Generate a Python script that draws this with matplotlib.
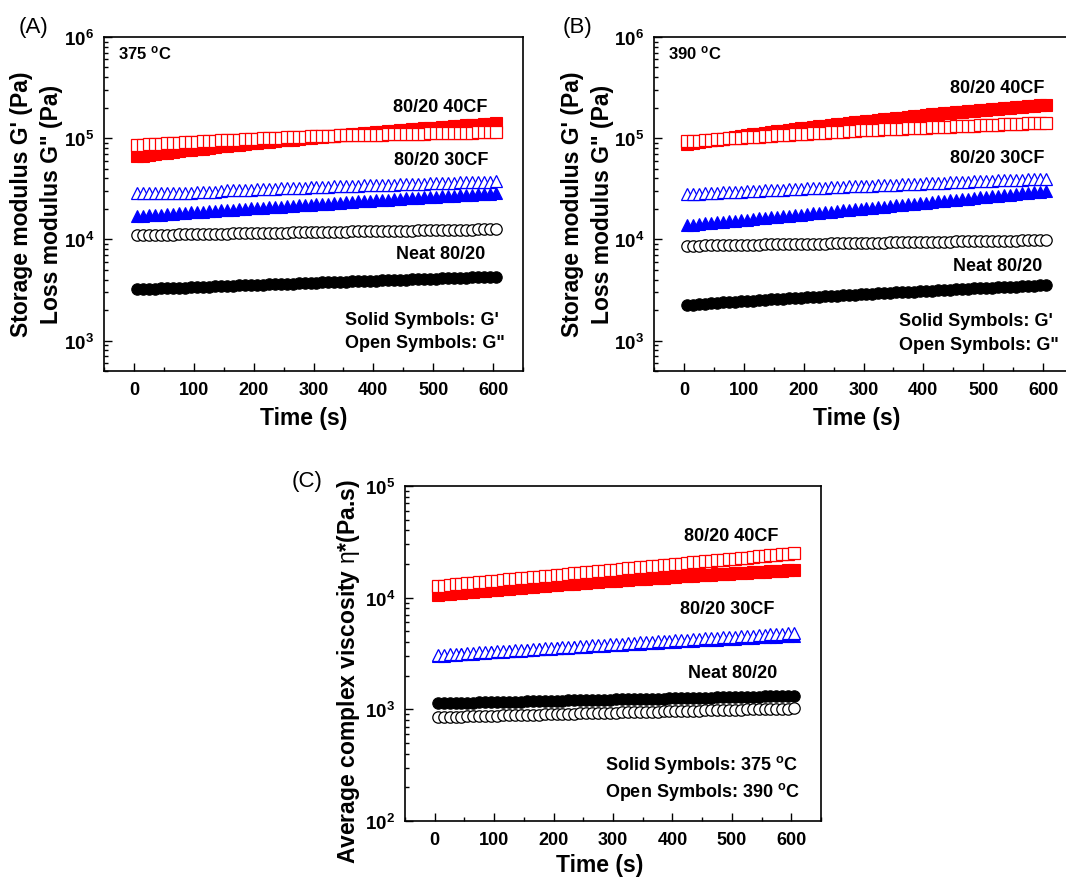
import numpy as np
import matplotlib.pyplot as plt
from matplotlib.ticker import FuncFormatter, LogLocator, MultipleLocator

plt.rcParams['font.family'] = ['Liberation Sans', 'DejaVu Sans']
plt.rcParams['mathtext.fontset'] = 'custom'
plt.rcParams['mathtext.rm'] = 'Liberation Sans'
plt.rcParams['mathtext.bf'] = 'Liberation Sans:bold'
plt.rcParams['mathtext.default'] = 'bf'

# time axis (s), one point every 10 s
time = np.arange(5, 606, 10)

# ---- panel A, 375 C (kPa) ----
a_gp_40 = [66, 67, 68, 70, 71, 72, 73, 74, 76, 77, 78, 79, 80, 82, 83, 84, 85, 86, 88, 89,
           90, 91, 92, 94, 95, 96, 97, 98, 100, 101, 102, 103, 105, 106, 107, 108, 110, 111,
           112, 113, 115, 116, 117, 118, 120, 121, 122, 124, 125, 126, 127, 129, 130, 131,
           132, 134, 135, 136, 137, 139, 140]
a_gpp_40 = [86.0, 86.6, 87.3, 87.9, 88.5, 89.2, 89.8, 90.4, 91.1, 91.7, 92.3, 93.0, 93.6, 94.2,
            94.9, 95.5, 96.1, 96.8, 97.4, 98.0, 98.7, 99.3, 99.9, 100.6, 101.2, 101.8, 102.5,
            103.1, 103.7, 104.4, 105.0, 105.3, 105.7, 106.0, 106.3, 106.7, 107.0, 107.3, 107.7,
            108.0, 108.3, 108.7, 109.0, 109.3, 109.7, 110.0, 110.3, 110.7, 111.0, 111.3, 111.7,
            112.0, 112.3, 112.7, 113.0, 113.3, 113.7, 114.0, 114.3, 114.7, 115.0]
a_gp_30 = [16.9, 17.1, 17.3, 17.4, 17.6, 17.8, 17.9, 18.1, 18.3, 18.5, 18.7, 18.8, 19.0, 19.2,
           19.4, 19.5, 19.7, 19.9, 20.1, 20.3, 20.4, 20.6, 20.8, 21.0, 21.1, 21.3, 21.5, 21.7,
           21.8, 22.0, 22.2, 22.4, 22.6, 22.8, 23.0, 23.2, 23.5, 23.7, 23.9, 24.1, 24.3, 24.5,
           24.7, 24.9, 25.1, 25.4, 25.6, 25.8, 26.0, 26.2, 26.4, 26.6, 26.8, 27.0, 27.2, 27.5,
           27.7, 27.9, 28.1, 28.3, 28.5]
a_gpp_30 = [28.5, 28.6, 28.6, 28.7, 28.7, 28.8, 28.8, 28.9, 28.9, 29.0, 29.1, 29.1, 29.2, 29.3,
            30.3, 30.5, 30.6, 30.8, 30.9, 31.1, 31.2, 31.4, 31.5, 31.7, 31.9, 32.0, 32.2, 32.3,
            32.5, 32.7, 32.8, 33.0, 33.1, 33.3, 33.4, 33.6, 33.8, 33.9, 34.1, 34.2, 34.4, 34.5,
            34.7, 34.8, 35.0, 35.2, 35.3, 35.5, 35.6, 35.8, 35.9, 36.1, 36.3, 36.4, 36.6, 36.7,
            36.9, 37.0, 37.2, 37.3, 37.5]
a_gp_neat = [3.20, 3.22, 3.24, 3.25, 3.27, 3.29, 3.31, 3.32, 3.34, 3.36, 3.38, 3.40, 3.41, 3.43,
             3.45, 3.47, 3.49, 3.50, 3.52, 3.54, 3.56, 3.57, 3.59, 3.61, 3.63, 3.65, 3.66, 3.68,
             3.70, 3.72, 3.73, 3.75, 3.77, 3.79, 3.81, 3.82, 3.84, 3.86, 3.88, 3.89, 3.91, 3.93,
             3.95, 3.97, 3.98, 4.00, 4.02, 4.04, 4.05, 4.07, 4.09, 4.11, 4.13, 4.14, 4.16, 4.18,
             4.20, 4.21, 4.23, 4.25, 4.27]
a_gpp_neat = [11.00, 11.03, 11.05, 11.08, 11.11, 11.13, 11.16, 11.19, 11.21, 11.24, 11.27, 11.29,
              11.32, 11.35, 11.37, 11.40, 11.43, 11.45, 11.48, 11.51, 11.53, 11.56, 11.59, 11.61,
              11.64, 11.67, 11.69, 11.72, 11.75, 11.77, 11.80, 11.83, 11.85, 11.88, 11.91, 11.93,
              11.96, 11.99, 12.01, 12.04, 12.07, 12.09, 12.12, 12.15, 12.17, 12.20, 12.23, 12.25,
              12.28, 12.31, 12.33, 12.36, 12.39, 12.41, 12.44, 12.47, 12.49, 12.52, 12.55, 12.57,
              12.60]

# ---- panel B, 390 C (kPa) ----
b_gp_40 = [87, 89, 91, 93, 95, 97, 99, 101, 103, 105, 107, 109, 111, 113, 115, 117, 119, 121,
           123, 125, 127, 129, 131, 133, 135, 137, 139, 141, 143, 145, 147, 149, 152, 154, 156,
           158, 160, 163, 165, 167, 169, 172, 174, 176, 178, 180, 183, 185, 187, 189, 192, 194,
           196, 198, 201, 203, 205, 207, 210, 212, 214]
b_gpp_40 = [93.0, 93.9, 94.8, 95.7, 96.6, 97.5, 98.4, 99.3, 100.2, 101.1, 102.0, 102.9, 103.8,
            104.7, 105.6, 106.5, 107.4, 108.3, 109.2, 110.1, 111.0, 111.9, 112.8, 113.7, 114.6,
            115.5, 116.4, 117.3, 118.2, 119.1, 120.0, 120.7, 121.5, 122.2, 122.9, 123.7, 124.4,
            125.1, 125.9, 126.6, 127.3, 128.1, 128.8, 129.5, 130.3, 131.0, 131.7, 132.5, 133.2,
            133.9, 134.7, 135.4, 136.1, 136.9, 137.6, 138.3, 139.1, 139.8, 140.5, 141.3, 142.0]
b_gp_30 = [13.8, 14.0, 14.2, 14.4, 14.5, 14.7, 14.9, 15.1, 15.3, 15.5, 15.7, 15.9, 16.1, 16.3,
           16.5, 16.8, 17.0, 17.2, 17.4, 17.6, 17.9, 18.1, 18.3, 18.6, 18.8, 19.1, 19.3, 19.6,
           19.8, 20.1, 20.3, 20.6, 20.9, 21.1, 21.4, 21.7, 22.0, 22.3, 22.6, 22.9, 23.1, 23.5,
           23.8, 24.1, 24.4, 24.7, 25.0, 25.3, 25.7, 26.0, 26.3, 26.7, 27.0, 27.4, 27.7, 28.1,
           28.5, 28.8, 29.2, 29.6, 30.0]
b_gpp_30 = [27.9, 28.1, 28.3, 28.5, 28.7, 28.9, 29.1, 29.3, 29.5, 29.7, 29.9, 30.1, 30.3, 30.5,
            30.7, 30.9, 31.1, 31.3, 31.5, 31.7, 31.9, 32.1, 32.3, 32.5, 32.7, 32.9, 33.1, 33.3,
            33.5, 33.7, 33.8, 34.0, 34.2, 34.4, 34.6, 34.8, 35.0, 35.2, 35.4, 35.6, 35.8, 36.0,
            36.2, 36.4, 36.6, 36.8, 37.0, 37.2, 37.4, 37.6, 37.8, 38.0, 38.2, 38.4, 38.6, 38.8,
            39.0, 39.2, 39.4, 39.6, 39.8]
b_gp_neat = [2.25, 2.27, 2.29, 2.31, 2.33, 2.36, 2.38, 2.40, 2.42, 2.44, 2.46, 2.48, 2.50, 2.53,
             2.55, 2.57, 2.59, 2.61, 2.63, 2.65, 2.67, 2.69, 2.72, 2.74, 2.76, 2.78, 2.80, 2.82,
             2.84, 2.86, 2.89, 2.91, 2.93, 2.95, 2.97, 2.99, 3.01, 3.03, 3.05, 3.08, 3.10, 3.12,
             3.14, 3.16, 3.18, 3.20, 3.22, 3.24, 3.27, 3.29, 3.31, 3.33, 3.35, 3.37, 3.39, 3.42,
             3.44, 3.46, 3.48, 3.50, 3.52]
b_gpp_neat = [8.65, 8.67, 8.69, 8.71, 8.73, 8.75, 8.77, 8.79, 8.81, 8.83, 8.85, 8.87, 8.89, 8.91,
              8.93, 8.95, 8.97, 8.99, 9.01, 9.03, 9.05, 9.06, 9.08, 9.10, 9.12, 9.14, 9.16, 9.18,
              9.20, 9.22, 9.24, 9.26, 9.28, 9.30, 9.32, 9.34, 9.36, 9.38, 9.40, 9.42, 9.44, 9.46,
              9.48, 9.50, 9.52, 9.54, 9.56, 9.58, 9.60, 9.62, 9.64, 9.66, 9.68, 9.70, 9.72, 9.74,
              9.76, 9.78, 9.80, 9.82, 9.84]

# ---- panel C, complex viscosity (kPa.s) ----
c_375_40 = [10.60, 10.72, 10.84, 10.96, 11.08, 11.20, 11.32, 11.44, 11.56, 11.68, 11.80, 11.92,
            12.04, 12.16, 12.28, 12.40, 12.52, 12.64, 12.76, 12.88, 13.00, 13.12, 13.24, 13.36,
            13.48, 13.60, 13.72, 13.84, 13.96, 14.08, 14.20, 14.32, 14.43, 14.55, 14.67, 14.78,
            14.90, 15.02, 15.13, 15.25, 15.37, 15.48, 15.60, 15.72, 15.83, 15.95, 16.07, 16.18,
            16.30, 16.42, 16.53, 16.65, 16.77, 16.88, 17.00, 17.12, 17.23, 17.35, 17.47, 17.58,
            17.70]
c_390_40 = [12.70, 12.85, 12.99, 13.14, 13.29, 13.44, 13.59, 13.75, 13.90, 14.06, 14.22, 14.38,
            14.55, 14.71, 14.88, 15.05, 15.22, 15.39, 15.57, 15.75, 15.93, 16.11, 16.29, 16.48,
            16.67, 16.86, 17.05, 17.24, 17.44, 17.64, 17.84, 18.04, 18.25, 18.46, 18.67, 18.88,
            19.10, 19.31, 19.53, 19.76, 19.98, 20.21, 20.44, 20.67, 20.91, 21.15, 21.39, 21.63,
            21.88, 22.13, 22.38, 22.64, 22.89, 23.16, 23.42, 23.69, 23.96, 24.23, 24.51, 24.79,
            25.10]
c_375_30 = [3.00, 3.03, 3.05, 3.08, 3.10, 3.13, 3.16, 3.18, 3.21, 3.23, 3.26, 3.28, 3.31, 3.34,
            3.36, 3.39, 3.41, 3.44, 3.47, 3.49, 3.52, 3.54, 3.57, 3.59, 3.62, 3.65, 3.67, 3.70,
            3.72, 3.75, 3.78, 3.80, 3.83, 3.85, 3.88, 3.90, 3.93, 3.96, 3.98, 4.01, 4.03, 4.06,
            4.09, 4.11, 4.14, 4.16, 4.19, 4.21, 4.24, 4.27, 4.29, 4.32, 4.34, 4.37, 4.40, 4.42,
            4.45, 4.47, 4.50, 4.52, 4.55]
c_390_30 = [3.07, 3.09, 3.12, 3.14, 3.16, 3.19, 3.21, 3.24, 3.26, 3.28, 3.31, 3.33, 3.36, 3.38,
            3.41, 3.43, 3.46, 3.49, 3.51, 3.54, 3.57, 3.59, 3.62, 3.65, 3.67, 3.70, 3.73, 3.76,
            3.79, 3.82, 3.85, 3.88, 3.91, 3.94, 3.97, 4.00, 4.03, 4.06, 4.09, 4.12, 4.15, 4.18,
            4.21, 4.25, 4.28, 4.31, 4.34, 4.38, 4.41, 4.44, 4.48, 4.51, 4.55, 4.58, 4.62, 4.65,
            4.69, 4.72, 4.76, 4.79, 4.83]
c_375_neat = [1.130, 1.133, 1.136, 1.140, 1.143, 1.146, 1.149, 1.152, 1.155, 1.159, 1.162, 1.165,
              1.168, 1.171, 1.174, 1.178, 1.181, 1.184, 1.187, 1.190, 1.193, 1.197, 1.200, 1.203,
              1.206, 1.209, 1.212, 1.216, 1.219, 1.222, 1.225, 1.228, 1.231, 1.235, 1.238, 1.241,
              1.244, 1.247, 1.250, 1.254, 1.257, 1.260, 1.263, 1.266, 1.269, 1.273, 1.276, 1.279,
              1.282, 1.285, 1.288, 1.292, 1.295, 1.298, 1.301, 1.304, 1.307, 1.311, 1.314, 1.317,
              1.320]
c_390_neat = [0.850, 0.853, 0.856, 0.859, 0.861, 0.864, 0.867, 0.870, 0.873, 0.876, 0.878, 0.881,
              0.884, 0.887, 0.890, 0.893, 0.895, 0.898, 0.901, 0.904, 0.907, 0.910, 0.912, 0.915,
              0.918, 0.921, 0.924, 0.926, 0.929, 0.932, 0.935, 0.938, 0.941, 0.943, 0.946, 0.949,
              0.952, 0.955, 0.958, 0.960, 0.963, 0.966, 0.969, 0.972, 0.975, 0.977, 0.980, 0.983,
              0.986, 0.989, 0.992, 0.994, 0.997, 1.000, 1.003, 1.006, 1.009, 1.011, 1.014, 1.017,
              1.020]

W, H = 1066, 878
fig = plt.figure(figsize=(W / 100, H / 100), dpi=100)


def px(x, y):
    return x / W, 1 - y / H


def style(ax, ylim):
    ax.set_yscale('log')
    ax.set_xlim(-50, 650)
    ax.set_ylim(*ylim)
    ax.xaxis.set_major_locator(MultipleLocator(100))
    ax.xaxis.set_minor_locator(MultipleLocator(50))
    ax.yaxis.set_major_locator(LogLocator(base=10, numticks=10))
    ax.yaxis.set_minor_locator(LogLocator(base=10, subs=np.arange(2, 10), numticks=10))
    ax.yaxis.set_major_formatter(FuncFormatter(lambda v, p: r'$\mathbf{10^{%d}}$' % round(np.log10(v))))
    ax.tick_params(which='both', direction='in', top=False, right=False, width=1.0)
    ax.tick_params(which='major', length=6, pad=7)
    ax.tick_params(which='minor', length=3)
    ax.tick_params(axis='x', labelsize=13)
    ax.tick_params(axis='y', labelsize=13.5)
    for lab in ax.get_xticklabels():
        lab.set_fontweight('bold')
    for s in ax.spines.values():
        s.set_linewidth(1.2)


ms = 8.2


def solid(ax, y, c, m):
    ax.plot(time, np.array(y) * 1e3, ls='none', marker=m, ms=ms, mfc=c, mec=c, mew=0.8)


def hollow(ax, y, c, m):
    ax.plot(time, np.array(y) * 1e3, ls='none', marker=m, ms=ms, mfc='white', mec=c, mew=0.9)


# panel A
axA = fig.add_axes([104 / W, 1 - 372 / H, 419 / W, 334 / H])
style(axA, (500, 1e6))
solid(axA, a_gp_40, 'red', 's')
hollow(axA, a_gpp_40, 'red', 's')
solid(axA, a_gp_30, 'blue', '^')
hollow(axA, a_gpp_30, 'blue', '^')
solid(axA, a_gp_neat, 'black', 'o')
hollow(axA, a_gpp_neat, 'black', 'o')

# panel B
axB = fig.add_axes([654 / W, 1 - 372 / H, 419 / W, 334 / H])
style(axB, (500, 1e6))
solid(axB, b_gp_40, 'red', 's')
hollow(axB, b_gpp_40, 'red', 's')
solid(axB, b_gp_30, 'blue', '^')
hollow(axB, b_gpp_30, 'blue', '^')
solid(axB, b_gp_neat, 'black', 'o')
hollow(axB, b_gpp_neat, 'black', 'o')

# panel C
axC = fig.add_axes([405 / W, 1 - 822 / H, 416 / W, 335 / H])
style(axC, (100, 1e5))
solid(axC, c_375_40, 'red', 's')
hollow(axC, c_390_40, 'red', 's')
solid(axC, c_375_30, 'blue', '^')
hollow(axC, c_390_30, 'blue', '^')
solid(axC, c_375_neat, 'black', 'o')
hollow(axC, c_390_neat, 'black', 'o')

bold = dict(fontweight='bold')

# in-plot annotations
for ax, temp, pos in [(axA, '375', [(0.916, 0.793), (0.918, 0.632), (0.911, 0.353)]),
                      (axB, '390', [(0.931, 0.850), (0.931, 0.640), (0.926, 0.317)])]:
    ax.text(0.033, 0.955, temp + r' $^{o}$C', transform=ax.transAxes, fontsize=12, va='center', **bold)
    for (x, y), s in zip(pos, ['80/20 40CF', '80/20 30CF', 'Neat 80/20']):
        ax.text(x, y, s, transform=ax.transAxes, fontsize=13, ha='right', va='center', **bold)
axA.text(0.575, 0.153, "Solid Symbols: G'", transform=axA.transAxes, fontsize=13, va='center', **bold)
axA.text(0.575, 0.084, 'Open Symbols: G"', transform=axA.transAxes, fontsize=13, va='center', **bold)
axB.text(0.585, 0.150, "Solid Symbols: G'", transform=axB.transAxes, fontsize=13, va='center', **bold)
axB.text(0.585, 0.078, 'Open Symbols: G"', transform=axB.transAxes, fontsize=13, va='center', **bold)

for (x, y), s in zip([(0.897, 0.851), (0.887, 0.633), (0.894, 0.442)],
                     ['80/20 40CF', '80/20 30CF', 'Neat 80/20']):
    axC.text(x, y, s, transform=axC.transAxes, fontsize=13, ha='right', va='center', **bold)
axC.text(0.481, 0.170, r'Solid Symbols: 375 $^{o}$C', transform=axC.transAxes, fontsize=13, va='center', **bold)
axC.text(0.481, 0.090, r'Open Symbols: 390 $^{o}$C', transform=axC.transAxes, fontsize=13, va='center', **bold)

# axis labels
for x0 in (0, 550):
    fig.text(*px(x0 + 22, 204), "Storage modulus G' (Pa)", rotation=90, ha='center', va='center', fontsize=16.5, **bold)
    fig.text(*px(x0 + 52, 204), 'Loss modulus G" (Pa)', rotation=90, ha='center', va='center', fontsize=16.5, **bold)
fig.text(*px(304, 418), 'Time (s)', ha='center', va='center', fontsize=16.5, **bold)
fig.text(*px(857, 418), 'Time (s)', ha='center', va='center', fontsize=16.5, **bold)
fig.text(*px(600, 866), 'Time (s)', ha='center', va='center', fontsize=16.5, **bold)
fig.text(*px(348, 672), r'Average complex viscosity $\mathrm{\eta}$*(Pa.s)', rotation=90,
         ha='center', va='center', fontsize=16.5, **bold)

# panel letters
fig.text(*px(33, 27), '(A)', ha='center', va='center', fontsize=16)
fig.text(*px(577, 27), '(B)', ha='center', va='center', fontsize=16)
fig.text(*px(307, 482), '(C)', ha='center', va='center', fontsize=16)

fig.savefig('out.png', dpi=100)
